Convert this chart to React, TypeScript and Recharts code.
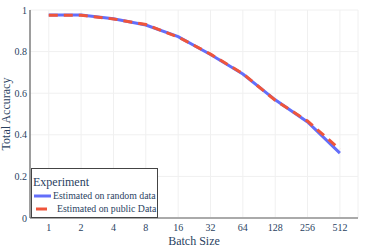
import { LineChart, Line, XAxis, YAxis, CartesianGrid } from 'recharts';

const batchSizes = ['1', '2', '4', '8', '16', '32', '64', '128', '256', '512'];
const randomData = [0.976, 0.976, 0.958, 0.928, 0.872, 0.786, 0.692, 0.568, 0.462, 0.312];
const publicData = [0.975, 0.975, 0.957, 0.93, 0.87, 0.788, 0.694, 0.566, 0.466, 0.33];
const yTicks = [0, 0.2, 0.4, 0.6, 0.8, 1];

const seriesNames = ['Estimated on random data', 'Estimated on public Data'];
const BLUE = '#636efa';
const RED = '#ef553b';
const TEXT = '#2a3f5f';
const FONT = '"Liberation Serif", "DejaVu Serif", serif';

const chartData = batchSizes.map((b, i) => ({
  idx: i,
  batch: b,
  random: randomData[i],
  public: publicData[i],
}));

export default function App() {
  return (
    <div style={{ position: 'absolute', left: 0, top: 0, width: 373, height: 249, fontFamily: FONT }}>
      <LineChart width={373} height={249} data={chartData} margin={{ top: 10, right: 15, left: 0, bottom: 0 }}>
        <CartesianGrid stroke="#f0f0f0" strokeWidth={1} />
        <XAxis
          dataKey="idx"
          type="number"
          domain={[-0.58, 9.56]}
          ticks={batchSizes.map((_, i) => i)}
          tickFormatter={(v: number) => batchSizes[v]}
          height={31}
          tickLine={false}
          tickSize={0}
          axisLine={{ stroke: '#aaaaaa', strokeWidth: 2 }}
          tick={{ fill: TEXT, fontSize: 10, fontFamily: FONT }}
          tickMargin={6}
          label={{ value: 'Batch Size', position: 'insideBottom', offset: 0, dy: -4, fill: TEXT, fontSize: 12, fontFamily: FONT }}
        />
        <YAxis
          type="number"
          domain={[0, 1]}
          ticks={yTicks}
          width={30}
          tickLine={false}
          tickSize={0}
          axisLine={{ stroke: '#444444', strokeWidth: 1 }}
          tick={{ fill: TEXT, fontSize: 10, fontFamily: FONT }}
          tickMargin={3}
          tickFormatter={(v: number) => String(v)}
          label={{ value: 'Total Accuracy', angle: -90, position: 'insideLeft', offset: 0, dx: 6, fill: TEXT, fontSize: 12, fontFamily: FONT, style: { textAnchor: 'middle' } }}
        />
        <Line type="linear" dataKey="random" stroke={BLUE} strokeWidth={3} dot={false} isAnimationActive={false} />
        <Line type="linear" dataKey="public" stroke={RED} strokeWidth={3} strokeDasharray="9 6" dot={false} isAnimationActive={false} />
      </LineChart>
      <div
        style={{
          position: 'absolute',
          left: 31,
          top: 168,
          width: 125,
          height: 48,
          background: '#ffffff',
          border: '1px solid #444',
          color: TEXT,
          fontFamily: FONT,
          boxSizing: 'content-box',
        }}
      >
        <div style={{ fontSize: 12, lineHeight: '14px', marginTop: 6, marginLeft: 1 }}>Experiment</div>
        {seriesNames.map((name, i) => (
          <div key={name} style={{ display: 'flex', alignItems: 'center', fontSize: 9.8, lineHeight: '13px', marginLeft: 2, whiteSpace: 'nowrap' }}>
            <svg width={18} height={6} style={{ marginRight: i === 0 ? 1 : 5, flexShrink: 0 }}>
              {i === 0 ? (
                <line x1={0} y1={3} x2={17} y2={3} stroke={BLUE} strokeWidth={3} />
              ) : (
                <line x1={2} y1={3} x2={13} y2={3} stroke={RED} strokeWidth={3} />
              )}
            </svg>
            <span>{name}</span>
          </div>
        ))}
      </div>
    </div>
  );
}
